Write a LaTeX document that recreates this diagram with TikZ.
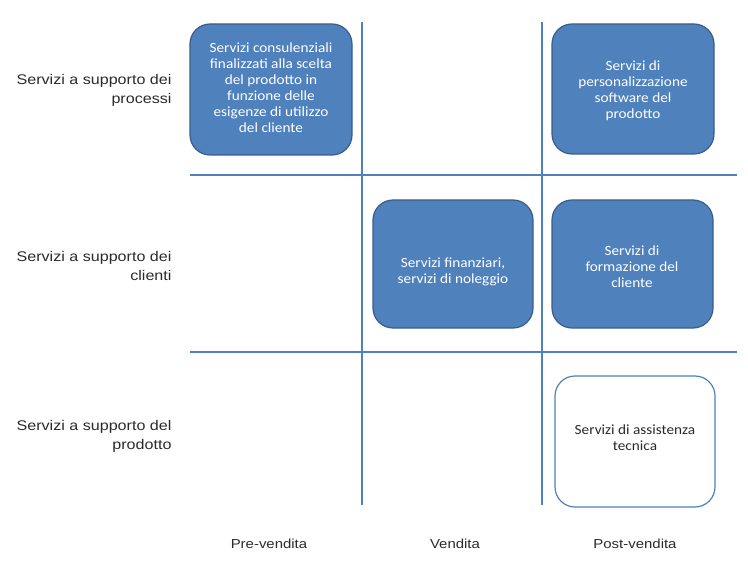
\documentclass[tikz,border=0pt]{standalone}
\usepackage{fontspec}
\setmainfont[FakeStretch=1.15]{Liberation Sans}
\newfontfamily\boxfont[FakeStretch=1.09]{Carlito}
\definecolor{ofblue}{HTML}{4F81BD}
\definecolor{ofdark}{HTML}{385D8A}
\definecolor{lbl}{HTML}{2A2A2A}
\begin{document}
\begin{tikzpicture}[x=1pt,y=-1pt,
  cell/.style={draw=ofdark,line width=1.2pt,fill=ofblue,rounded corners=20pt},
  cellw/.style={draw=ofblue,line width=1.2pt,fill=white,rounded corners=20pt},
  celltext/.style={text=white,align=center,font=\boxfont\fontsize{14}{16}\selectfont},
  grid/.style={draw=ofblue,line width=2.8pt},
  rowlbl/.style={anchor=east,align=right,text=lbl,font=\fontsize{14}{19}\selectfont},
  collbl/.style={anchor=center,text=lbl,font=\fontsize{13}{14}\selectfont}]
\useasboundingbox (0,0) rectangle (748,575);
% grid lines
\coordinate (v1t) at (362,22); \coordinate (v1b) at (362,505);
\coordinate (v2t) at (542,22); \coordinate (v2b) at (542,505);
\coordinate (h1l) at (190,175); \coordinate (h1r) at (737,175);
\coordinate (h2l) at (190,352); \coordinate (h2r) at (737,352);
\draw[grid] (v1t) -- (v1b);
\draw[grid] (v2t) -- (v2b);
\draw[grid] (h1l) -- (h1r);
\draw[grid] (h2l) -- (h2r);
% boxes
\draw[cell] (190,24) rectangle (352,155);
\node[celltext] (b1) at (271,88) {Servizi consulenziali\\finalizzati alla scelta\\del prodotto in\\funzione delle\\esigenze di utilizzo\\del cliente};
\draw[cell] (552,24) rectangle (714,154);
\node[celltext] (b2) at (633,91) {Servizi di\\personalizzazione\\software del\\prodotto};
\draw[cell] (373,200) rectangle (533,328);
\node[celltext] (b3) at (453,272) {Servizi finanziari,\\servizi di noleggio};
\draw[cell] (552,200) rectangle (713,328);
\node[celltext] (b4) at (632,267) {Servizi di\\formazione del\\cliente};
\draw[cellw] (555,376) rectangle (715,507);
\node[celltext,text=lbl] (b5) at (635,438) {Servizi di assistenza\\tecnica};
% row labels
\node[rowlbl] (r1) at (175,90) {Servizi a supporto dei\\processi};
\node[rowlbl] (r2) at (175,266) {Servizi a supporto dei\\clienti};
\node[rowlbl] (r3) at (175,436) {Servizi a supporto del\\prodotto};
% column labels
\node[collbl] (c1) at (269,544) {Pre-vendita};
\node[collbl] (c2) at (455,544) {Vendita};
\node[collbl] (c3) at (635,544) {Post-vendita};
\end{tikzpicture}
\end{document}
